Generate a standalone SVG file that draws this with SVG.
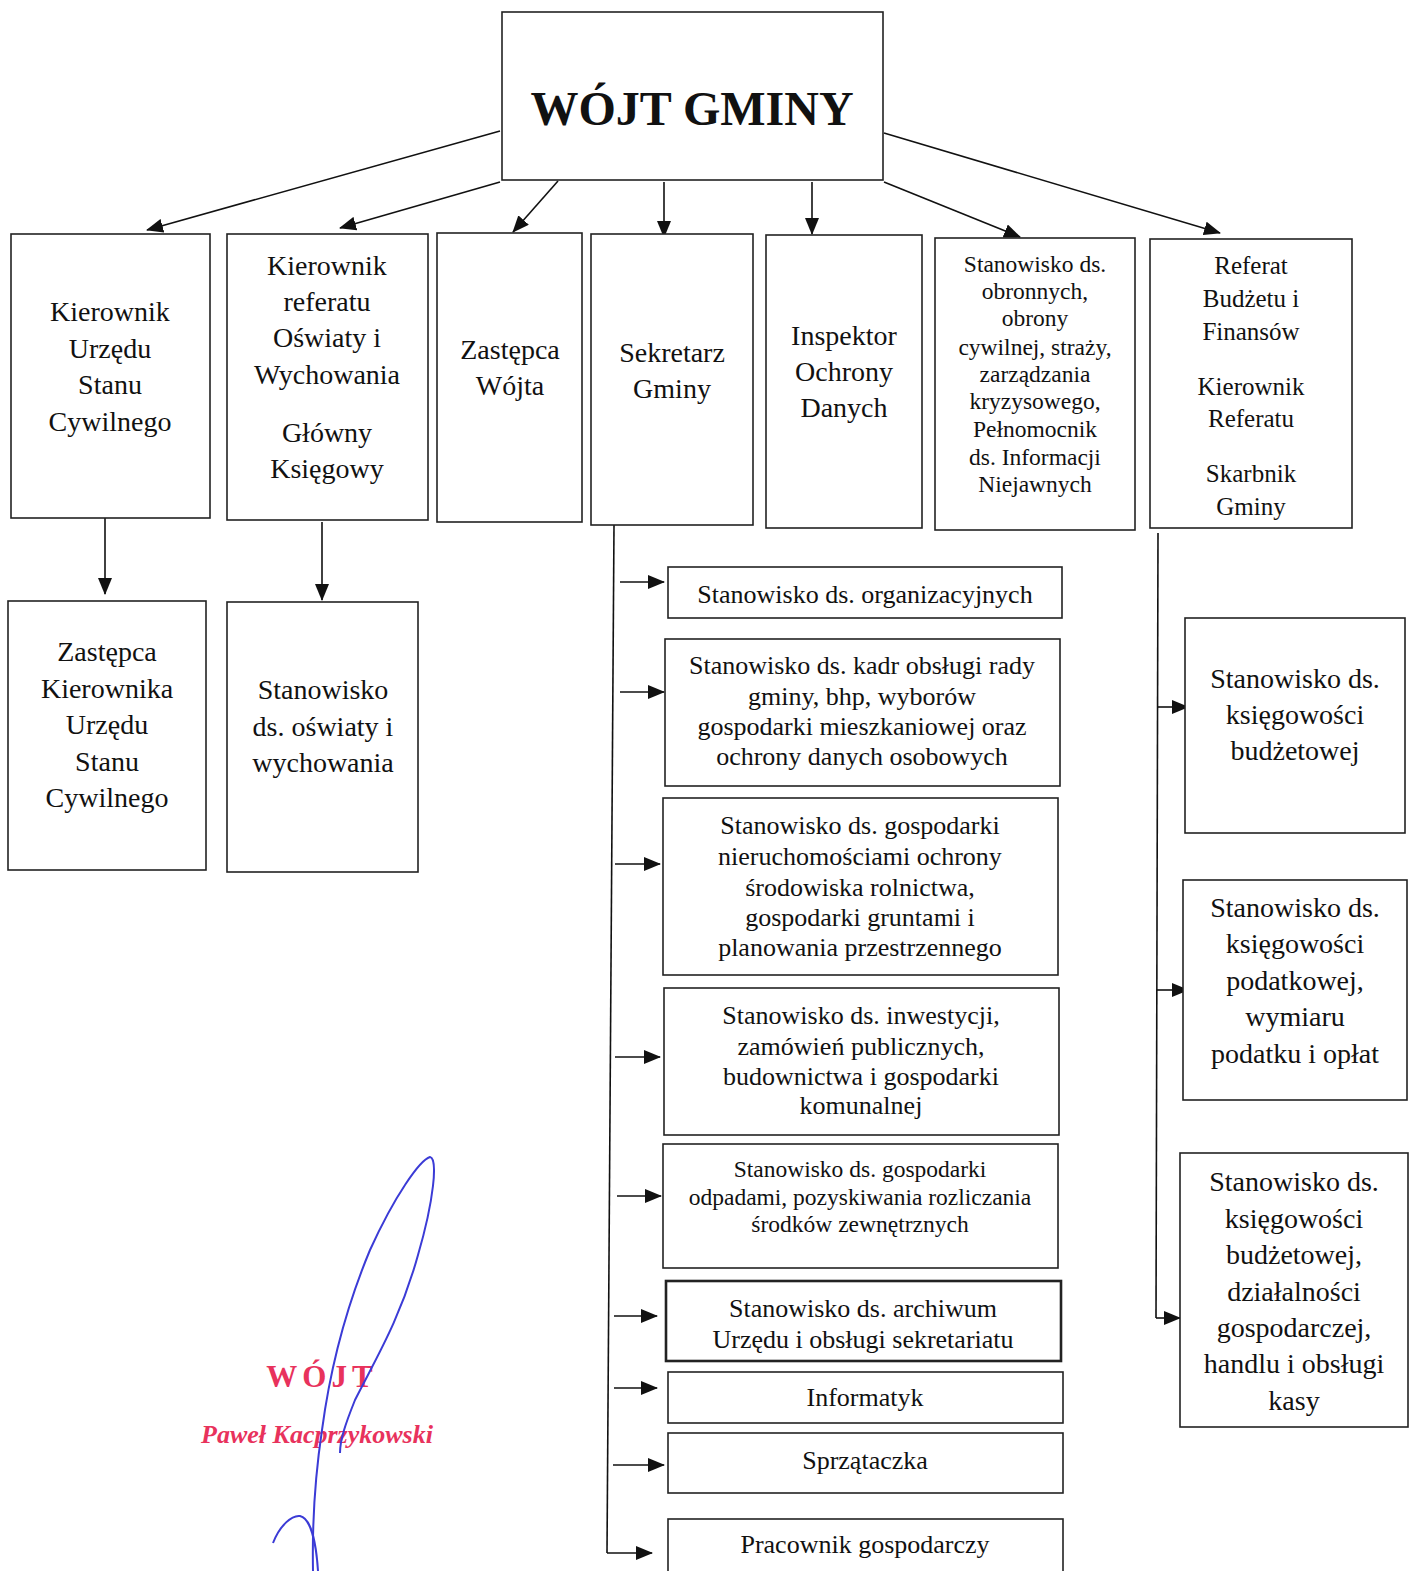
<svg xmlns="http://www.w3.org/2000/svg" width="1418" height="1571" viewBox="0 0 1418 1571">
<defs>
<marker id="ah" markerUnits="userSpaceOnUse" markerWidth="18" markerHeight="14" refX="16" refY="7" orient="auto">
<path d="M0,0 L17,7 L0,14 Z" fill="#111"/>
</marker>
<style>
.box{fill:#fff;stroke:#222;stroke-width:1.6}
.t{font-family:"Liberation Serif","Times New Roman",serif;fill:#111;text-anchor:middle}
.f28{font-size:28px}
.f26{font-size:26px}
.f25{font-size:25px}
.f23{font-size:23.5px}
.ln{stroke:#111;stroke-width:1.6;fill:none}
.ar{stroke:#111;stroke-width:1.6;fill:none;marker-end:url(#ah)}
</style>
</defs>
<rect width="1418" height="1571" fill="#fff"/>

<g id="connectors">
<line class="ar" x1="500" y1="131" x2="147" y2="230"/>
<line class="ar" x1="500" y1="182" x2="340" y2="228"/>
<line class="ar" x1="558" y1="181" x2="513" y2="232"/>
<line class="ar" x1="664" y1="182" x2="664" y2="237"/>
<line class="ar" x1="812" y1="182" x2="812" y2="234"/>
<line class="ar" x1="884" y1="182" x2="1020" y2="237"/>
<line class="ar" x1="884" y1="133" x2="1220" y2="233"/>
<line class="ar" x1="105" y1="517" x2="105" y2="594"/>
<line class="ar" x1="322" y1="522" x2="322" y2="600"/>
<path class="ln" d="M614,525 L607,1553"/>
<line class="ar" x1="620" y1="582" x2="664" y2="582"/>
<line class="ar" x1="620" y1="692" x2="664" y2="692"/>
<line class="ar" x1="615" y1="864" x2="660" y2="864"/>
<line class="ar" x1="615" y1="1057" x2="660" y2="1057"/>
<line class="ar" x1="617" y1="1196" x2="661" y2="1196"/>
<line class="ar" x1="614" y1="1316" x2="657" y2="1316"/>
<line class="ar" x1="614" y1="1388" x2="657" y2="1388"/>
<line class="ar" x1="613" y1="1465" x2="664" y2="1465"/>
<line class="ar" x1="607" y1="1553" x2="652" y2="1553"/>
<path class="ln" d="M1158,533 L1156,1318"/>
<line class="ar" x1="1157" y1="707" x2="1188" y2="707"/>
<line class="ar" x1="1157" y1="990" x2="1188" y2="990"/>
<line class="ar" x1="1156" y1="1318" x2="1180" y2="1318"/>
</g>

<g id="wojt">
<rect class="box" x="502" y="12" width="381" height="168"/>
<text class="t" x="692" y="125" style="font-size:48px;font-weight:bold">WÓJT GMINY</text>
</g>

<g id="kierownik-usc">
<rect class="box" x="11" y="234" width="199" height="284"/>
<text class="t f28" x="110"><tspan x="110" y="321">Kierownik</tspan><tspan x="110" y="358">Urzędu</tspan><tspan x="110" y="394">Stanu</tspan><tspan x="110" y="431">Cywilnego</tspan></text>
</g>

<g id="kierownik-oswiaty">
<rect class="box" x="227" y="234" width="201" height="286"/>
<text class="t f28" x="327"><tspan x="327" y="275">Kierownik</tspan><tspan x="327" y="311">referatu</tspan><tspan x="327" y="347">Oświaty i</tspan><tspan x="327" y="384">Wychowania</tspan><tspan x="327" y="442">Główny</tspan><tspan x="327" y="478">Księgowy</tspan></text>
</g>

<g id="zastepca-wojta">
<rect class="box" x="437" y="233" width="145" height="289"/>
<text class="t f28" x="510"><tspan x="510" y="359">Zastępca</tspan><tspan x="510" y="395">Wójta</tspan></text>
</g>

<g id="sekretarz">
<rect class="box" x="591" y="234" width="162" height="291"/>
<text class="t f28" x="672"><tspan x="672" y="362">Sekretarz</tspan><tspan x="672" y="398">Gminy</tspan></text>
</g>

<g id="inspektor">
<rect class="box" x="766" y="235" width="156" height="293"/>
<text class="t f28" x="844"><tspan x="844" y="345">Inspektor</tspan><tspan x="844" y="381">Ochrony</tspan><tspan x="844" y="417">Danych</tspan></text>
</g>

<g id="obronnych">
<rect class="box" x="935" y="238" width="200" height="292"/>
<text class="t f23" x="1035"><tspan x="1035" y="272">Stanowisko ds.</tspan><tspan x="1035" y="299">obronnych,</tspan><tspan x="1035" y="326">obrony</tspan><tspan x="1035" y="355">cywilnej, straży,</tspan><tspan x="1035" y="382">zarządzania</tspan><tspan x="1035" y="409">kryzysowego,</tspan><tspan x="1035" y="437">Pełnomocnik</tspan><tspan x="1035" y="465">ds. Informacji</tspan><tspan x="1035" y="492">Niejawnych</tspan></text>
</g>

<g id="referat-budzetu">
<rect class="box" x="1150" y="239" width="202" height="289"/>
<text class="t f25" x="1251"><tspan x="1251" y="274">Referat</tspan><tspan x="1251" y="307">Budżetu i</tspan><tspan x="1251" y="340">Finansów</tspan><tspan x="1251" y="395">Kierownik</tspan><tspan x="1251" y="427">Referatu</tspan><tspan x="1251" y="482">Skarbnik</tspan><tspan x="1251" y="515">Gminy</tspan></text>
</g>

<g id="zastepca-kierownika-usc">
<rect class="box" x="8" y="601" width="198" height="269"/>
<text class="t f28" x="107"><tspan x="107" y="661">Zastępca</tspan><tspan x="107" y="698">Kierownika</tspan><tspan x="107" y="734">Urzędu</tspan><tspan x="107" y="771">Stanu</tspan><tspan x="107" y="807">Cywilnego</tspan></text>
</g>

<g id="oswiaty">
<rect class="box" x="227" y="602" width="191" height="270"/>
<text class="t f28" x="323"><tspan x="323" y="699">Stanowisko</tspan><tspan x="323" y="736">ds. oświaty i</tspan><tspan x="323" y="772">wychowania</tspan></text>
</g>

<g id="organizacyjnych">
<rect class="box" x="668" y="567" width="394" height="51"/>
<text class="t f26" x="865" y="603">Stanowisko ds. organizacyjnych</text>
</g>

<g id="kadr">
<rect class="box" x="665" y="639" width="395" height="147"/>
<text class="t f26" x="862"><tspan x="862" y="674">Stanowisko ds. kadr obsługi rady</tspan><tspan x="862" y="705">gminy, bhp, wyborów</tspan><tspan x="862" y="735">gospodarki mieszkaniowej oraz</tspan><tspan x="862" y="765">ochrony danych osobowych</tspan></text>
</g>

<g id="nieruchomosci">
<rect class="box" x="663" y="798" width="395" height="177"/>
<text class="t f26" x="860"><tspan x="860" y="834">Stanowisko ds. gospodarki</tspan><tspan x="860" y="865">nieruchomościami ochrony</tspan><tspan x="860" y="896">środowiska rolnictwa,</tspan><tspan x="860" y="926">gospodarki gruntami i</tspan><tspan x="860" y="956">planowania przestrzennego</tspan></text>
</g>

<g id="inwestycji">
<rect class="box" x="664" y="988" width="395" height="147"/>
<text class="t f26" x="861"><tspan x="861" y="1024">Stanowisko ds. inwestycji,</tspan><tspan x="861" y="1055">zamówień publicznych,</tspan><tspan x="861" y="1085">budownictwa i gospodarki</tspan><tspan x="861" y="1114">komunalnej</tspan></text>
</g>

<g id="odpadami">
<rect class="box" x="663" y="1144" width="395" height="124"/>
<text class="t f23" x="860"><tspan x="860" y="1177">Stanowisko ds.  gospodarki</tspan><tspan x="860" y="1205">odpadami, pozyskiwania rozliczania</tspan><tspan x="860" y="1232">środków zewnętrznych</tspan></text>
</g>

<g id="archiwum">
<rect class="box" x="666" y="1281" width="395" height="80" style="stroke-width:2.6"/>
<text class="t f26" x="863"><tspan x="863" y="1317">Stanowisko ds. archiwum</tspan><tspan x="863" y="1348">Urzędu i obsługi sekretariatu</tspan></text>
</g>

<g id="informatyk">
<rect class="box" x="668" y="1372" width="395" height="51"/>
<text class="t f26" x="865" y="1406">Informatyk</text>
</g>

<g id="sprzataczka">
<rect class="box" x="668" y="1433" width="395" height="60"/>
<text class="t f26" x="865" y="1469">Sprzątaczka</text>
</g>

<g id="pracownik">
<rect class="box" x="668" y="1519" width="395" height="60"/>
<text class="t f26" x="865" y="1553">Pracownik gospodarczy</text>
</g>

<g id="ksiegowosci-budzetowej">
<rect class="box" x="1185" y="618" width="220" height="215"/>
<text class="t f28" x="1295"><tspan x="1295" y="688">Stanowisko ds.</tspan><tspan x="1295" y="724">księgowości</tspan><tspan x="1295" y="760">budżetowej</tspan></text>
</g>

<g id="ksiegowosci-podatkowej">
<rect class="box" x="1183" y="880" width="224" height="220"/>
<text class="t f28" x="1295"><tspan x="1295" y="917">Stanowisko ds.</tspan><tspan x="1295" y="953">księgowości</tspan><tspan x="1295" y="990">podatkowej,</tspan><tspan x="1295" y="1026">wymiaru</tspan><tspan x="1295" y="1063">podatku i opłat</tspan></text>
</g>

<g id="ksiegowosci-kasy">
<rect class="box" x="1180" y="1153" width="228" height="274"/>
<text class="t f28" x="1294"><tspan x="1294" y="1191">Stanowisko ds.</tspan><tspan x="1294" y="1228">księgowości</tspan><tspan x="1294" y="1264">budżetowej,</tspan><tspan x="1294" y="1301">działalności</tspan><tspan x="1294" y="1337">gospodarczej,</tspan><tspan x="1294" y="1373">handlu i obsługi</tspan><tspan x="1294" y="1410">kasy</tspan></text>
</g>

<g id="stamp">
<text x="322" y="1387" style="font-family:'Liberation Serif',serif;font-size:31px;font-weight:bold;fill:#e8325c;text-anchor:middle;letter-spacing:5px">WÓJT</text>
<text x="317" y="1443" style="font-family:'Liberation Serif',serif;font-size:26px;font-style:italic;font-weight:bold;fill:#e8325c;text-anchor:middle">Paweł Kacprzykowski</text>
</g>

<g id="signature" fill="none" stroke="#3b3bd6" stroke-width="2">
<path d="M313,1571 C312,1520 316,1470 322,1430 C330,1370 345,1310 370,1250 C395,1195 420,1160 430,1157 C438,1158 434,1200 418,1255 C400,1320 375,1360 355,1400 C345,1425 340,1440 340,1453"/>
<path d="M273,1543 C280,1525 292,1515 300,1516 C310,1518 316,1540 318,1571"/>
</g>
</svg>
